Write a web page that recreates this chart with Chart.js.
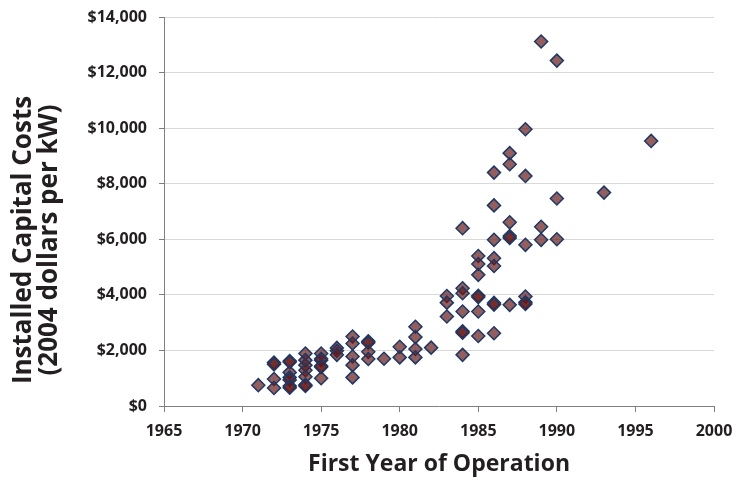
<!DOCTYPE html>
<html>
<head>
<meta charset="utf-8">
<script src="https://cdn.jsdelivr.net/npm/chart.js@4"></script>
<style>
  html, body { margin: 0; padding: 0; background: #fff; }
  canvas { display: block; }
</style>
</head>
<body>
<canvas id="myChart" width="734" height="478"></canvas>
<script>
// data: first year of operation and cost ($/kW, 2004 dollars)
const years = [
  1971,
  1972, 1972, 1972, 1972,
  1973, 1973, 1973, 1973, 1973, 1973, 1973,
  1974, 1974, 1974, 1974, 1974, 1974, 1974,
  1975, 1975, 1975, 1975, 1975, 1975,
  1976, 1976, 1976,
  1977, 1977, 1977, 1977, 1977,
  1978, 1978, 1978, 1978,
  1979,
  1980, 1980,
  1981, 1981, 1981, 1981,
  1982,
  1983, 1983, 1983,
  1984, 1984, 1984, 1984, 1984, 1984, 1984,
  1985, 1985, 1985, 1985, 1985, 1985, 1985,
  1986, 1986, 1986, 1986, 1986, 1986, 1986, 1986,
  1987, 1987, 1987, 1987, 1987, 1987,
  1988, 1988, 1988, 1988, 1988, 1988,
  1989, 1989, 1989,
  1990, 1990, 1990,
  1993,
  1996
];
const costs = [
  750,
  1560, 1500, 970, 650,
  1620, 1580, 1210, 1030, 940, 720, 660,
  1890, 1650, 1470, 1290, 1050, 760, 720,
  1890, 1700, 1650, 1440, 1400, 1000,
  2090, 1990, 1840,
  2500, 2250, 1780, 1470, 1030,
  2330, 2280, 1950, 1690,
  1700,
  2130, 1750,
  2850, 2480, 2050, 1750,
  2100,
  3960, 3720, 3220,
  6400, 4240, 4060, 3400, 2690, 2640, 1840,
  5400, 5110, 4720, 3970, 3920, 3400, 2520,
  8400, 7220, 5980, 5320, 5040, 3710, 3650, 2620,
  9100, 8700, 6610, 6120, 6050, 3640,
  9960, 8280, 5800, 3940, 3730, 3670,
  13120, 6450, 5980,
  12430, 7470, 6000,
  7680,
  9540
];
const xTicks = [1965, 1970, 1975, 1980, 1985, 1990, 1995, 2000];
const yTicks = [0, 2000, 4000, 6000, 8000, 10000, 12000, 14000];
const xTitle = "First Year of Operation";
const yTitle = ["Installed Capital Costs", "(2004 dollars per kW)"];

const points = years.map((y, i) => ({ x: y, y: costs[i] }));

const FONT = "'Open Sans', 'DejaVu Sans', sans-serif";
const TEXT = "#231f20";

// y title drawn by hand so it can sit a bit lower than the plot centre
const yTitlePlugin = {
  id: "yTitle",
  afterDraw(chart) {
    const c = chart.ctx;
    c.save();
    c.fillStyle = TEXT;
    c.font = "bold 26px " + FONT;
    c.textAlign = "center";
    c.textBaseline = "middle";
    c.translate(24, 240);
    c.rotate(-Math.PI / 2);
    c.fillText(yTitle[0], 0, 0);
    c.fillText(yTitle[1], 0, 26);
    c.restore();
  }
};

const ctx = document.getElementById("myChart");

new Chart(ctx, {
  type: "scatter",
  data: {
    datasets: [{
      data: points,
      pointStyle: "rectRot",
      pointRadius: 6.5,
      backgroundColor: "rgba(100,25,25,0.7)",
      borderColor: "#1f3864",
      borderWidth: 1.5
    }]
  },
  options: {
    responsive: false,
    animation: false,
    layout: { padding: { top: 17, right: 20, bottom: 0, left: 0 } },
    plugins: {
      legend: { display: false },
      tooltip: { enabled: false }
    },
    scales: {
      x: {
        type: "linear",
        min: xTicks[0],
        max: xTicks[xTicks.length - 1],
        afterBuildTicks: (s) => { s.ticks = xTicks.map(v => ({ value: v })); },
        afterFit: (s) => {
          s.height = 72;
          s.paddingLeft = 0;
          s.paddingRight = 0;
        },
        grid: { drawOnChartArea: false, tickLength: 6, tickColor: "#808080" },
        border: { color: "#808080", width: 1 },
        ticks: {
          padding: 10,
          color: TEXT,
          font: { family: FONT, size: 16, weight: "bold" },
          callback: (v) => String(v)
        },
        title: {
          display: true,
          text: xTitle,
          color: TEXT,
          font: { family: FONT, size: 23, weight: "bold" },
          padding: 0
        }
      },
      y: {
        min: yTicks[0],
        max: yTicks[yTicks.length - 1],
        afterBuildTicks: (s) => { s.ticks = yTicks.map(v => ({ value: v })); },
        afterFit: (s) => {
          s.width = 164;
          s.paddingTop = 0;
          s.paddingBottom = 0;
        },
        grid: { color: "#d9d9d9", tickLength: 5, tickColor: "#808080" },
        border: { color: "#808080", width: 1 },
        ticks: {
          padding: 12,
          color: TEXT,
          font: { family: FONT, size: 16, weight: "bold" },
          callback: (v) => "$" + v.toLocaleString("en-US")
        }
      }
    }
  },
  plugins: [yTitlePlugin]
});
</script>
</body>
</html>
